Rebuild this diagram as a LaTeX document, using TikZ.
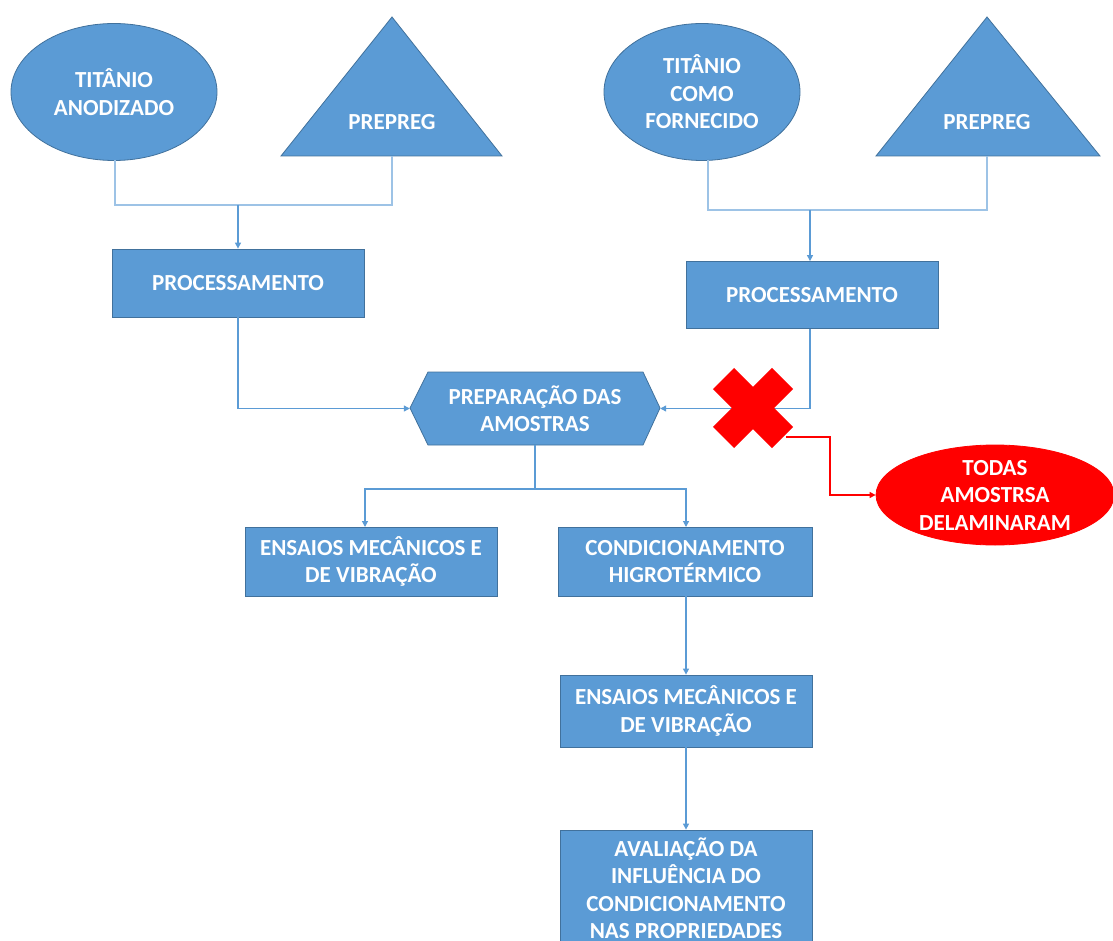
\documentclass[tikz,border=0pt]{standalone}
\usepackage{fontspec}
\setmainfont{Carlito}
\usetikzlibrary{shapes.geometric,arrows.meta}
\definecolor{bfill}{HTML}{5B9BD5}
\definecolor{bdraw}{HTML}{41719C}
\definecolor{lline}{HTML}{9DC3E6}
\definecolor{aline}{HTML}{5B9BD5}
\definecolor{xred}{HTML}{FF0000}
\tikzset{
  txt/.style={text=white, align=center, font=\fontsize{23}{27.5}\selectfont\bfseries, inner sep=0pt},
  bluebox/.style={rectangle, fill=bfill, draw=bdraw, line width=0.8pt, inner sep=0pt, txt},
  blueell/.style={ellipse, fill=bfill, draw=bdraw, line width=0.8pt, inner sep=0pt, txt},
  redell/.style={ellipse, fill=xred, draw=xred, line width=0.8pt, inner sep=0pt, txt},
  merge/.style={draw=lline, line width=1.6pt},
  arr/.style={draw=aline, line width=1.2pt, -{Triangle[length=6pt,width=6pt]}},
  redarr/.style={draw=xred, line width=1.2pt, -{Triangle[length=6pt,width=6pt]}},
}
\begin{document}
\begin{tikzpicture}[x=1pt,y=-1pt]
\useasboundingbox (0,0) rectangle (1113,941);
\clip (0,0) rectangle (1113,941);
% top-left sources
\node[blueell, minimum width=206pt, minimum height=137pt] (ti1) at (114,92) {TITÂNIO\\ANODIZADO};
\fill[bfill, draw=bdraw, line width=0.8pt] (392,17) -- (502,156) -- (281,156) -- cycle;
\node[txt] (pp1) at (392,122) {PREPREG};
\coordinate (pp1b) at (392,156);
\coordinate (t1b) at (115,160);
\coordinate (j1) at (238,205);
% top-right sources
\node[blueell, minimum width=196pt, minimum height=137pt] (ti2) at (702,92) {TITÂNIO\\COMO\\FORNECIDO};
\fill[bfill, draw=bdraw, line width=0.8pt] (987,17) -- (1100,156) -- (876,156) -- cycle;
\node[txt] (pp2) at (987,122) {PREPREG};
\coordinate (pp2b) at (987,156);
\coordinate (t2b) at (708,160);
\coordinate (j2) at (810,210);
% processing boxes
\node[bluebox, minimum width=252pt, minimum height=68pt] (proc1) at (238,283) {PROCESSAMENTO};
\node[bluebox, minimum width=252pt, minimum height=67pt] (proc2) at (812,295) {PROCESSAMENTO};
% hexagon
\fill[bfill, draw=bdraw, line width=0.8pt] (410,408) -- (428,372) -- (643,372) -- (660,408) -- (643,445) -- (428,445) -- cycle;
\node[txt, minimum width=250pt, minimum height=73pt] (prep) at (535,408.5) {PREPARAÇÃO DAS\\AMOSTRAS};
% lower boxes
\node[bluebox, minimum width=252pt, minimum height=69pt] (ens1) at (371,561.5) {ENSAIOS MECÂNICOS E\\DE VIBRAÇÃO};
\node[bluebox, minimum width=254pt, minimum height=69pt] (cond) at (685,561.5) {CONDICIONAMENTO\\HIGROTÉRMICO};
\node[bluebox, minimum width=252pt, minimum height=72pt] (ens2) at (686,711) {ENSAIOS MECÂNICOS E\\DE VIBRAÇÃO};
\node[bluebox, minimum width=252pt, minimum height=130pt] (aval) at (686,895) {};
\node[txt] (avaltxt) at (686,888) {AVALIAÇÃO DA\\INFLUÊNCIA DO\\CONDICIONAMENTO\\NAS PROPRIEDADES};
% red ellipse
\node[redell, minimum width=238pt, minimum height=100pt] (todas) at (995,495) {TODAS\\AMOSTRSA\\DELAMINARAM};
% connectors top-left
\draw[merge] (t1b) |- (j1) -| (pp1b);
\draw[arr] (j1) -- (proc1.north);
% connectors top-right
\draw[merge] (t2b) |- (j2) -| (pp2b);
\draw[arr] (j2) -- (proc2.north -| j2);
% to hexagon
\draw[arr] (proc1.south) |- (prep.west);
\draw[arr] (proc2.south -| j2) |- (prep.east);
% split
\coordinate (j3) at (535,489);
\coordinate (e1) at (365,527);
\coordinate (c1) at (686,527);
\draw[arr] (prep.south) -- (j3) -| (e1);
\draw[arr] (j3) -| (c1);
\draw[arr] (cond.south -| 686,0) -- (ens2.north -| 686,0);
\draw[arr] (ens2.south) -- (aval.north);
% red X
\coordinate (xa) at (723.5,378.5);
\coordinate (xb) at (782.5,437.5);
\coordinate (xc) at (782.5,378.5);
\coordinate (xd) at (723.5,437.5);
\draw[xred, line width=30pt] (xa) -- (xb);
\draw[xred, line width=30pt] (xc) -- (xd);
\coordinate (xout) at (786,437);
\draw[redarr] (xout) -- (830,437) |- (todas.west);
\end{tikzpicture}
\end{document}
